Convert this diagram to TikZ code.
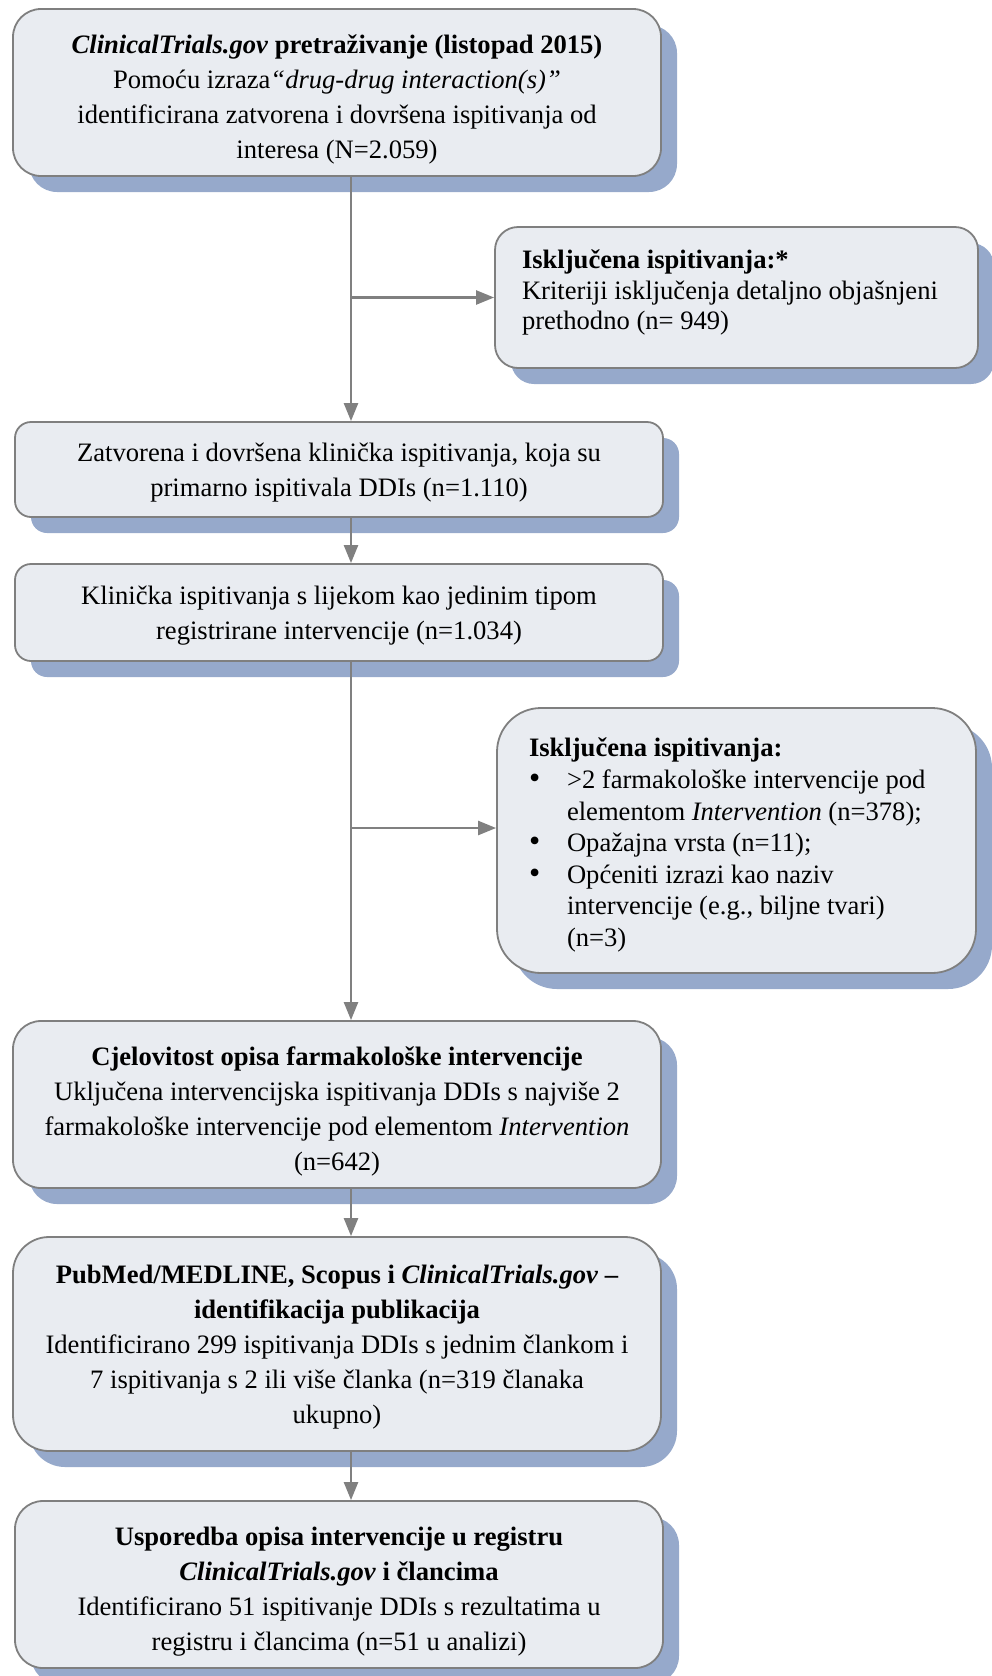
\documentclass[tikz,border=0pt]{standalone}
\usepackage{fontspec}
\setmainfont{Liberation Serif}
\usepackage{tikz}
\usetikzlibrary{arrows.meta}
\usetikzlibrary{shadows}

\definecolor{boxfill}{HTML}{E9ECF1}
\definecolor{boxline}{HTML}{7F7F7F}
\definecolor{shadowblue}{HTML}{96A9CB}
\definecolor{flowgray}{HTML}{808080}

\newcommand{\bitem}{\makebox[19pt][l]{\fontsize{16}{0}\selectfont\textbullet}}
\newcommand{\bcont}{\hspace*{19pt}}

\begin{document}
\begin{tikzpicture}[x=0.5pt,y=-0.5pt,
    stage/.style={draw=boxline,line width=0.9pt,fill=boxfill,rounded corners=#1,
      drop shadow={shadow xshift=8pt,shadow yshift=-8pt,fill=shadowblue,opacity=1},
      font=\fontsize{13.3}{17.5}\selectfont,align=flush center,inner sep=0pt},
    stage/.default=14pt,
    wide/.style={minimum width=324pt,text width=310pt,inner xsep=7pt,
      execute at begin node=\rule{0pt}{#1}},
    wide/.default=16.5pt,
    excl/.style={stage=#1,align=flush left,font=\fontsize{13.3}{15.8}\selectfont},
    flow/.style={draw=flowgray,line width=1.2pt,-{Triangle[length=9pt,width=7pt]}}]
  \useasboundingbox (0,0) rectangle (991,1676);
  \coordinate (spine) at (351,0);
  \coordinate (fork) at (351,828);
  \node[stage=14pt,wide,minimum height=83.5pt] (search) at (337,92.5)
    {\textbf{\textit{ClinicalTrials.gov} pretraživanje (listopad 2015)}\\
     Pomoću izraza\textit{“drug-drug interaction(s)”}\\
     identificirana zatvorena i dovršena ispitivanja od\\
     interesa (N=2.059)};
  \node[excl=11.5pt,minimum width=241.5pt,minimum height=70.5pt,
    text width=214.5pt,inner xsep=13.5pt,font=\fontsize{13.3}{15.3}\selectfont] (excl1) at (736.5,297.5)
    {\textbf{Isključena ispitivanja:*}\\
     Kriteriji isključenja detaljno objašnjeni\\
     prethodno (n= 949)\\[-7.5pt]\mbox{}};
  \node[stage=8pt,wide=12.3pt,minimum height=47.5pt] (closed) at (339,469.5)
    {Zatvorena i dovršena klinička ispitivanja, koja su\\
     primarno ispitivala DDIs (n=1.110)};
  \node[stage=8pt,wide=12.3pt,minimum height=48.5pt] (drug) at (339,612.5)
    {Klinička ispitivanja s lijekom kao jedinim tipom\\
     registrirane intervencije (n=1.034)};
  \node[excl=22pt,minimum width=239.5pt,minimum height=132.5pt,
    text width=207.5pt,inner xsep=16pt,
    execute at begin node=\rule{0pt}{14pt}] (excl2) at (736.5,840.5)
    {\textbf{Isključena ispitivanja:}\\
     \bitem{}>2 farmakološke intervencije pod\\
     \bcont elementom \textit{Intervention} (n=378);\\
     \bitem{}Opažajna vrsta (n=11);\\
     \bitem{}Općeniti izrazi kao naziv\\
     \bcont intervencije (e.g., biljne tvari)\\
     \bcont (n=3)};
  \node[stage=14pt,wide,minimum height=83.5pt] (complete) at (337,1104.5)
    {\textbf{Cjelovitost opisa farmakološke intervencije}\\
     Uključena intervencijska ispitivanja DDIs s najviše 2\\
     farmakološke intervencije pod elementom \textit{Intervention}\\
     (n=642)};
  \node[stage=18pt,wide=12.3pt,minimum height=107pt] (pubs) at (337,1344)
    {\textbf{PubMed/MEDLINE, Scopus i \textit{ClinicalTrials.gov} –}\\
     \textbf{identifikacija publikacija}\\
     Identificirano 299 ispitivanja DDIs s jednim člankom i\\
     7 ispitivanja s 2 ili više članka (n=319 članaka\\
     ukupno)};
  \node[stage=14pt,wide,minimum height=83.5pt] (compare) at (339,1584.5)
    {\textbf{Usporedba opisa intervencije u registru}\\
     \textbf{\textit{ClinicalTrials.gov} i člancima}\\
     Identificirano 51 ispitivanje DDIs s rezultatima u\\
     registru i člancima (n=51 u analizi)};
  \draw[flow] (search.south -| spine) -- (closed.north -| spine);
  \draw[flow] (spine |- excl1.west) -- (excl1.west);
  \draw[flow] (closed.south -| spine) -- (drug.north -| spine);
  \draw[flow] (drug.south -| spine) -- (complete.north -| spine);
  \draw[flow] (fork) -- (fork -| excl2.west);
  \draw[flow] (complete.south -| spine) -- (pubs.north -| spine);
  \draw[flow] (pubs.south -| spine) -- (compare.north -| spine);
\end{tikzpicture}
\end{document}
